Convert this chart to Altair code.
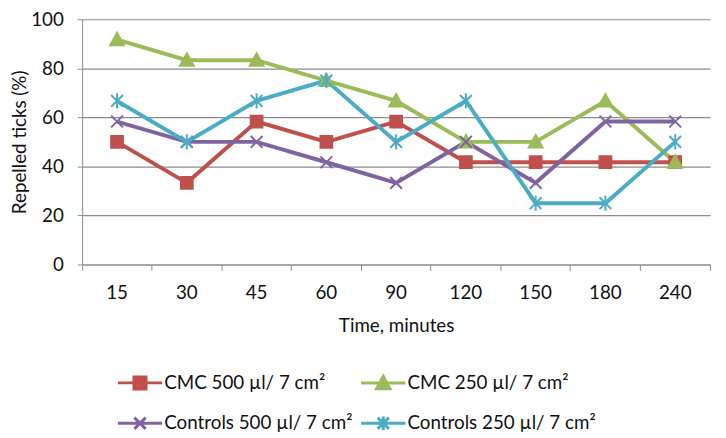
import altair as alt
import pandas as pd

# ---- data ----
times = ["15", "30", "45", "60", "90", "120", "150", "180", "240"]
series_names = [
    "CMC 500 µl/ 7 cm²",
    "CMC 250 µl/ 7 cm²",
    "Controls 500 µl/ 7 cm²",
    "Controls 250 µl/ 7 cm²",
]
cmc_500 = [50, 33.3, 58.3, 50, 58.3, 41.7, 41.7, 41.7, 41.7]
cmc_250 = [91.7, 83.3, 83.3, 75, 66.7, 50, 50, 66.7, 41.7]
controls_500 = [58.3, 50, 50, 41.7, 33.3, 50, 33.3, 58.3, 58.3]
controls_250 = [66.7, 50, 66.7, 75, 50, 66.7, 25, 25, 50]
y_ticks = [0, 20, 40, 60, 80, 100]

colors = ["#C0504D", "#9BBB59", "#8064A2", "#4BACC6"]

# marker shapes (unit paths)
marker_paths = [
    "M-0.85,-0.85H0.85V0.85H-0.85Z",
    "M0,-1L1,0.8H-1Z",
    "M-0.85,-0.85L0.85,0.85M-0.85,0.85L0.85,-0.85",
    "M-0.85,-0.85L0.85,0.85M-0.85,0.85L0.85,-0.85M0,-1.1V1.1",
]
# legend symbols: line + marker
legend_paths = [
    "M-1.18,0H1.18M-0.32,-0.32H0.32V0.32H-0.32Z",
    "M-1.18,0H1.18M0,-0.36L0.36,0.3H-0.36Z",
    "M-1.18,0H1.18M-0.3,-0.3L0.3,0.3M-0.3,0.3L0.3,-0.3",
    "M-1.18,0H1.18M-0.3,-0.3L0.3,0.3M-0.3,0.3L0.3,-0.3M0,-0.36V0.36",
]

rows = []
for name, vals in zip(series_names, [cmc_500, cmc_250, controls_500, controls_250]):
    for t, v in zip(times, vals):
        rows.append({"time": t, "value": v, "series": name})
df = pd.DataFrame(rows)

FONT = "Lato"
FS = 19
TXT = "#111111"
GRID = "#8c8c8c"

x_enc = alt.X(
    "time:N",
    sort=times,
    scale=alt.Scale(type="band", paddingInner=0, paddingOuter=0),
    axis=alt.Axis(
        title="Time, minutes",
        labelAngle=0,
        bandPosition=1,
        tickExtra=True,
        tickSize=6,
        tickColor=GRID,
        domainColor=GRID,
        labelPadding=13,
        labelFontSize=FS,
        labelFont=FONT,
        labelColor=TXT,
        titleFont=FONT,
        titleFontSize=FS,
        titleFontWeight="normal",
        titleColor=TXT,
        titlePadding=15,
        grid=False,
    ),
)
y_enc = alt.Y(
    "value:Q",
    scale=alt.Scale(domain=[0, 100]),
    axis=alt.Axis(
        title="Repelled ticks (%)",
        values=y_ticks,
        grid=True,
        gridColor=GRID,
        gridWidth=1.2,
        domainColor=GRID,
        tickColor=GRID,
        tickSize=5,
        labelPadding=14,
        labelFontSize=FS,
        labelFont=FONT,
        labelColor=TXT,
        titleFont=FONT,
        titleFontSize=FS,
        titleFontWeight="normal",
        titleColor=TXT,
        titlePadding=1,
    ),
)

lines = alt.Chart(df).mark_line(strokeWidth=4).encode(
    x=x_enc,
    y=y_enc,
    color=alt.Color("series:N", scale=alt.Scale(domain=series_names, range=colors), legend=None),
    detail="series:N",
)

points = alt.Chart(df).mark_point(filled=True, size=196, strokeWidth=2, opacity=1).encode(
    x=x_enc,
    y=y_enc,
    shape=alt.Shape("series:N", scale=alt.Scale(domain=series_names, range=marker_paths), legend=None),
    fill=alt.Fill("series:N", scale=alt.Scale(domain=series_names, range=colors), legend=None),
    stroke=alt.Stroke("series:N", scale=alt.Scale(domain=series_names, range=colors), legend=None),
)

leg = alt.Legend(
    title=None,
    orient="none",
    direction="horizontal",
    legendX=38,
    legendY=347,
    columns=2,
    columnPadding=2,
    rowPadding=8,
    padding=0,
    labelFont=FONT,
    labelFontSize=FS,
    labelColor=TXT,
    labelOffset=4,
    labelLimit=400,
    symbolSize=1444,
    symbolStrokeWidth=3,
    symbolOpacity=1,
)

legend_layer = alt.Chart(df).mark_point(filled=True, opacity=0, size=10).encode(
    x=x_enc,
    y=y_enc,
    shape=alt.Shape("series:N", scale=alt.Scale(domain=series_names, range=legend_paths), legend=leg),
    fill=alt.Fill("series:N", scale=alt.Scale(domain=series_names, range=colors), legend=leg),
    stroke=alt.Stroke("series:N", scale=alt.Scale(domain=series_names, range=colors), legend=leg),
)

chart = (
    alt.layer(lines, points, legend_layer)
    .resolve_scale(shape="independent", fill="independent", stroke="independent")
    .properties(
        width=635,
        height=248,
        padding={"left": 75, "top": 9, "right": 8, "bottom": 168},
        autosize=alt.AutoSizeParams(type="none"),
        background="white",
    )
    .configure_view(stroke=None)
)

chart.save("out.html", embed_options={"renderer": "svg", "actions": False})
